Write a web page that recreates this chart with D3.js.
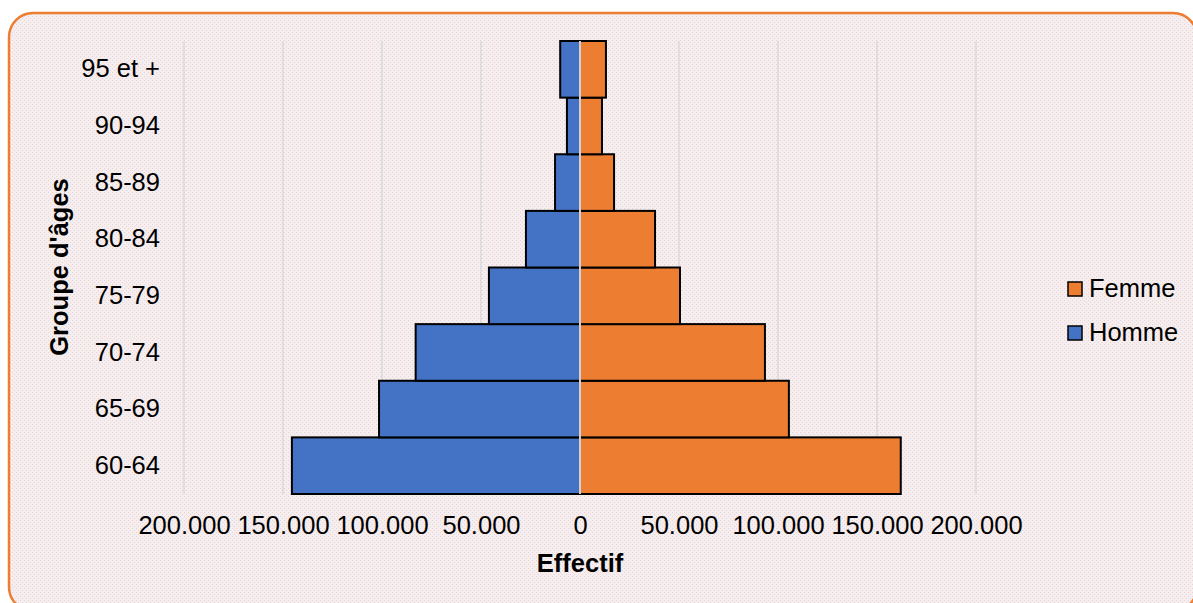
<!DOCTYPE html>
<html><head><meta charset="utf-8">
<script src="https://cdn.jsdelivr.net/npm/d3@7"></script>
<style>body{margin:0;background:#fff;overflow:hidden}svg{display:block}text{font-family:"Liberation Sans",Arial,sans-serif}</style>
</head><body>
<svg id="c" width="1193" height="603"></svg>
<script>
const categories = ["60-64","65-69","70-74","75-79","80-84","85-89","90-94","95 et +"];
const homme = [145500,101500,83000,46000,27300,12600,6600,10000];
const femme = [162000,105500,93400,50500,37900,17200,11100,13100];
const tickValues = [-200000,-150000,-100000,-50000,0,50000,100000,150000,200000];
const seriesNames = ["Femme","Homme"];
const colors = {Femme:"#ED7D31", Homme:"#4472C4"};

const FS = 25.5;
const svg = d3.select("#c");
const defs = svg.append("defs");
const pat = defs.append("pattern").attr("id","bgp").attr("width",4).attr("height",4).attr("patternUnits","userSpaceOnUse");
pat.append("rect").attr("width",4).attr("height",4).attr("fill","#f5edee");
pat.append("rect").attr("x",0).attr("y",0).attr("width",1).attr("height",1).attr("fill","#e6d4d7");
pat.append("rect").attr("x",2).attr("y",2).attr("width",1).attr("height",1).attr("fill","#e6d4d7");

svg.append("rect").attr("x",9).attr("y",13).attr("width",1188).attr("height",598)
  .attr("rx",24).attr("fill","url(#bgp)").attr("stroke","#ED7D31").attr("stroke-width",2.5);

const x = d3.scaleLinear().domain([-200000,200000]).range([184,976]);
const y = d3.scaleBand().domain(categories.slice().reverse()).range([41,494]).padding(0);

// gridlines
svg.append("g").selectAll("line").data(tickValues.filter(d=>d!==0)).join("line")
  .attr("x1",d=>x(d)).attr("x2",d=>x(d)).attr("y1",41).attr("y2",494)
  .attr("stroke","#d9d9d9").attr("stroke-width",1.5);

// bars
svg.append("g").selectAll("rect").data(categories.map((c,i)=>({c,v:homme[i]}))).join("rect")
  .attr("x",d=>x(-d.v)).attr("width",d=>x(0)-x(-d.v)).attr("y",d=>y(d.c)).attr("height",y.bandwidth())
  .attr("fill",colors.Homme).attr("stroke","#000").attr("stroke-width",2);
svg.append("g").selectAll("rect").data(categories.map((c,i)=>({c,v:femme[i]}))).join("rect")
  .attr("x",x(0)).attr("width",d=>x(d.v)-x(0)).attr("y",d=>y(d.c)).attr("height",y.bandwidth())
  .attr("fill",colors.Femme).attr("stroke","#000").attr("stroke-width",2);

// zero axis line
svg.append("line").attr("x1",x(0)).attr("x2",x(0)).attr("y1",41).attr("y2",494)
  .attr("stroke","#d0d0d0").attr("stroke-width",2);

// x axis labels
const fmt = v => v===0 ? "0" : d3.format(",")(Math.abs(v)).replace(/,/g,".");
const xAxis = d3.axisBottom(x).tickValues(tickValues).tickFormat(fmt).tickSize(0).tickPadding(0);
const gx = svg.append("g").attr("transform","translate(0,534)").call(xAxis);
gx.select(".domain").remove();
gx.selectAll("text").attr("font-size",FS).attr("fill","#000").attr("dy","0").attr("y",0).attr("font-family","Liberation Sans, Arial, sans-serif");

// y axis labels
const yAxis = d3.axisLeft(y).tickSize(0).tickPadding(0);
const gy = svg.append("g").attr("transform","translate(160,0)").call(yAxis);
gy.select(".domain").remove();
gy.selectAll("text").attr("font-size",FS).attr("fill","#000").attr("font-family","Liberation Sans, Arial, sans-serif");

// axis titles
svg.append("text").attr("x",580).attr("y",572).attr("text-anchor","middle")
  .attr("font-size",FS).attr("font-weight","bold").text("Effectif");
svg.append("text").attr("transform","translate(68,267) rotate(-90)").attr("text-anchor","middle")
  .attr("font-size",FS).attr("font-weight","bold").text("Groupe d'âges");

// legend
const lg = svg.append("g");
seriesNames.forEach((n,i)=>{
  const base = 297 + i*44;
  lg.append("rect").attr("x",1068).attr("y",base-15).attr("width",14).attr("height",14)
    .attr("fill",colors[n]).attr("stroke","#000").attr("stroke-width",1.5);
  lg.append("text").attr("x",1089).attr("y",base).attr("font-size",FS).text(n);
});
</script>
</body></html>
